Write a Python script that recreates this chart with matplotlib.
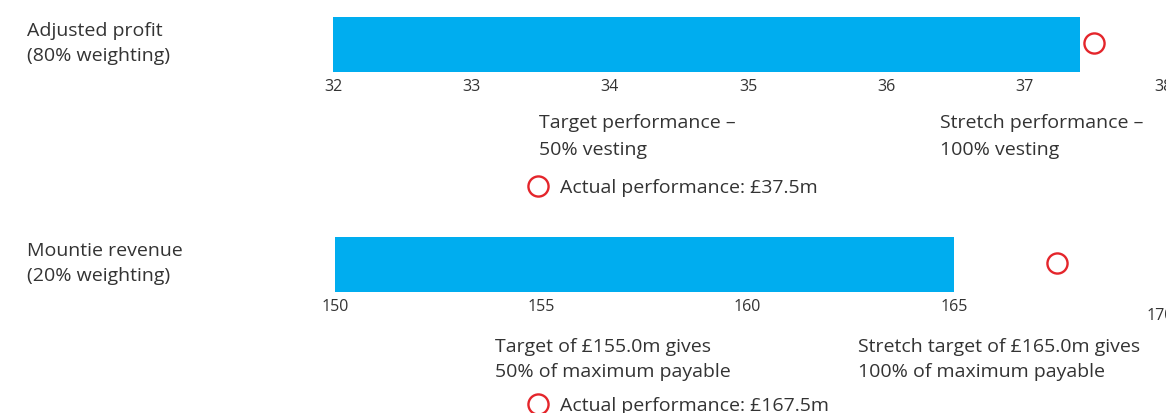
import matplotlib.pyplot as plt
from matplotlib.lines import Line2D
import numpy as np

W, H = 1166, 413

# measures and their scales
metric_names = ["Adjusted profit\n(80% weighting)", "Mountie revenue\n(20% weighting)"]
axis_min = [32, 150]
axis_max = [38, 170]
tick_step = [1, 5]
bar_values = [37.4, 165.0]      # vesting bar (revenue capped at stretch)
actual_values = [37.5, 167.5]   # actual outturn, £m
target_notes = ["Target performance –\n50% vesting",
                "Target of £155.0m gives\n50% of maximum payable"]
stretch_notes = ["Stretch performance –\n100% vesting",
                 "Stretch target of £165.0m gives\n100% of maximum payable"]

BLUE = "#00adef"
RED = "#e4252b"
GREY = "#333333"
TICK_SIZE = 11.5

plt.rcParams['font.family'] = ['Open Sans', 'DejaVu Sans']


def fx(px):
    return px / W


def fy(py):
    return 1 - py / H


fig = plt.figure(figsize=(W / 100, H / 100), dpi=100)

# pixel layout of each block: axes left/right, bar top/bottom, text baselines
blocks = [
    dict(left=333, right=1163, top=17, bottom=72, name_y=(36, 61),
         target_x=539, stretch_x=940, note_y=(128, 155), key_y=186, key_base=193),
    dict(left=335, right=1160, top=237, bottom=292, name_y=(256, 281),
         target_x=495, stretch_x=858, note_y=(352, 377), key_y=404, key_base=411),
]

for i, b in enumerate(blocks):
    ax = fig.add_axes([fx(b['left']), fy(b['bottom']),
                       fx(b['right']) - fx(b['left']), (b['bottom'] - b['top']) / H])
    ax.barh([0], [bar_values[i] - axis_min[i]], left=axis_min[i], height=1.0,
            color=BLUE)
    ax.plot([actual_values[i]], [0.03], marker='o', ms=14.5, mfc='none', mec=RED,
            mew=1.7, clip_on=False)
    ax.set_xlim(axis_min[i], axis_max[i])
    ax.set_ylim(-0.5, 0.5)
    ticks = np.arange(axis_min[i], axis_max[i] + 1e-9, tick_step[i])
    if i == 1:
        # last revenue label sits a little lower than the others
        ax.set_xticks(ticks[:-1])
        ax.text(ticks[-1], -0.5 - 16 / 55, "%d" % ticks[-1],
                ha='center', va='top', fontsize=TICK_SIZE, color=GREY, clip_on=False)
    else:
        ax.set_xticks(ticks)
    ax.set_xticklabels(["%d" % t for t in ax.get_xticks()], fontsize=TICK_SIZE)
    ax.tick_params(axis='x', length=0, pad=5, labelcolor=GREY)
    ax.set_yticks([])
    for s in ax.spines.values():
        s.set_visible(False)
    ax.patch.set_alpha(0)

    # row label
    for line, yb in zip(metric_names[i].split("\n"), b['name_y']):
        fig.text(fx(27), fy(yb), line, fontsize=14, color=GREY, va='baseline')
    # target / stretch notes
    for note, x0 in ((target_notes[i], b['target_x']), (stretch_notes[i], b['stretch_x'])):
        for line, yb in zip(note.split("\n"), b['note_y']):
            fig.text(fx(x0), fy(yb), line, fontsize=14, color=GREY, va='baseline')
    # key for the actual marker
    fig.add_artist(Line2D([fx(538)], [fy(b['key_y'])], transform=fig.transFigure,
                          marker='o', ms=14.5, mfc='none', mec=RED, mew=1.7,
                          linestyle='none'))
    fig.text(fx(560), fy(b['key_base']), "Actual performance: £%.1fm" % actual_values[i],
             fontsize=14, color=GREY, va='baseline')

fig.savefig("out.png", dpi=100)
